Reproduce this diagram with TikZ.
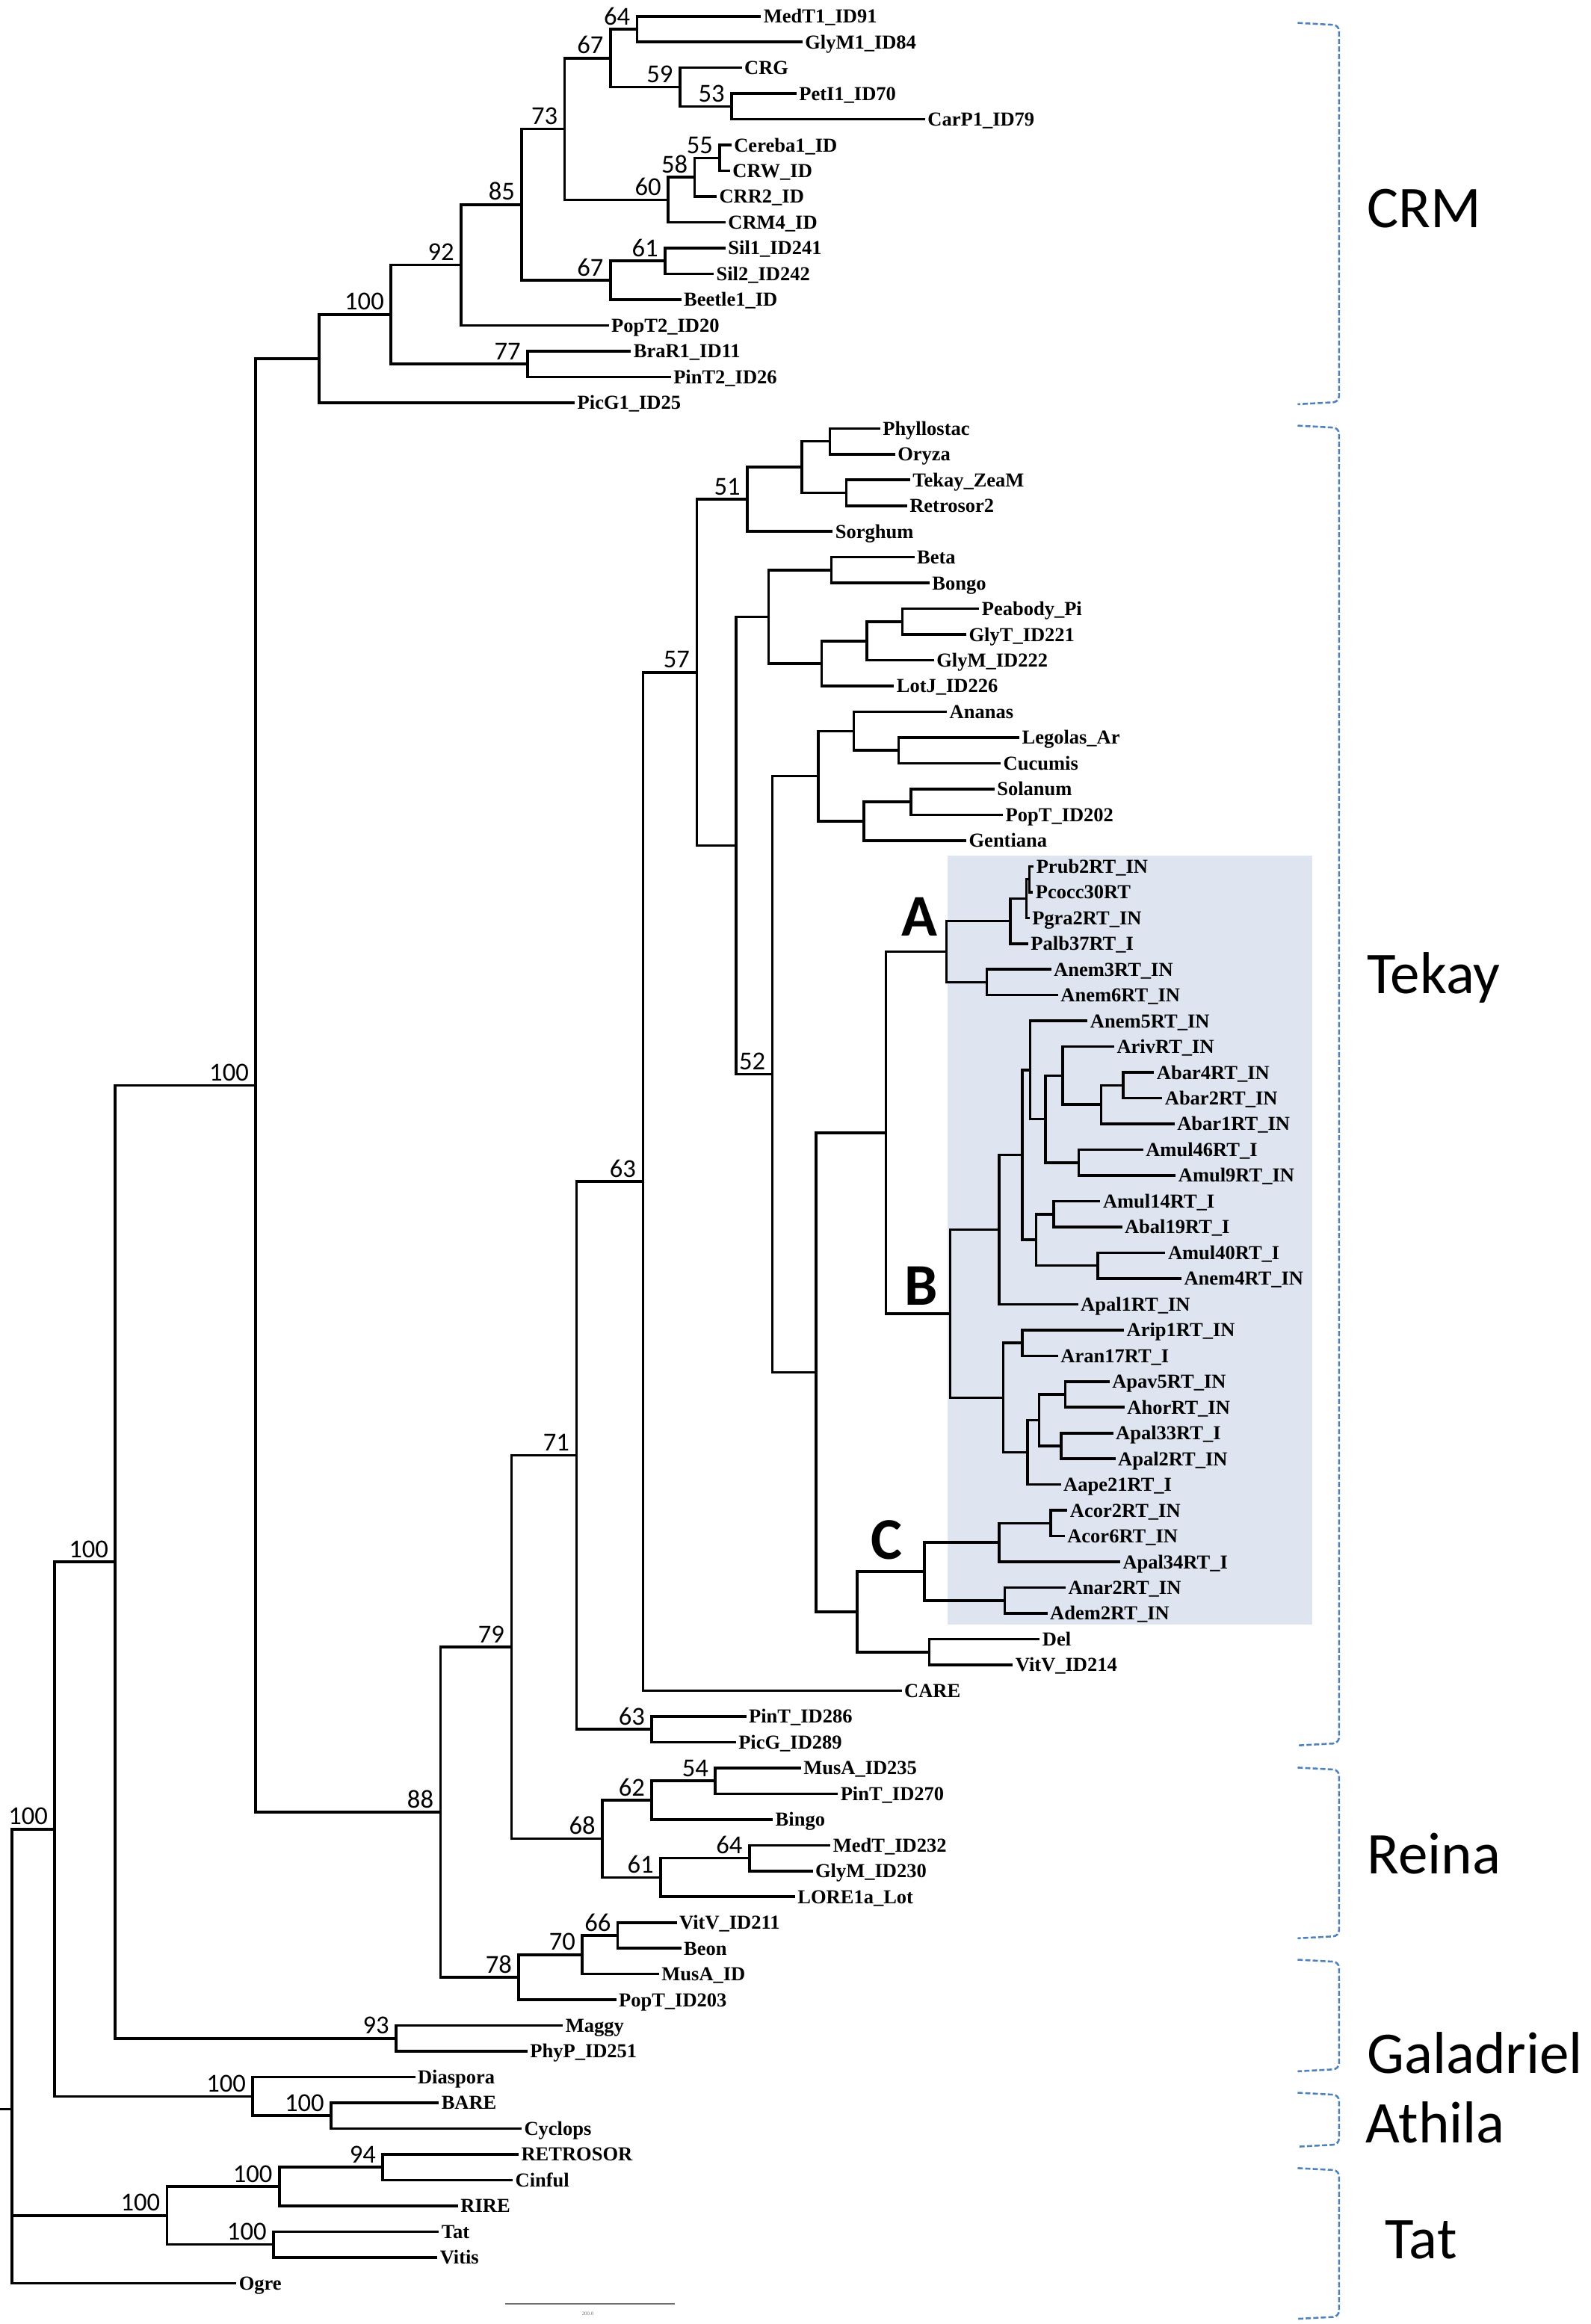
\documentclass[tikz,border=0pt]{standalone}
\usepackage{fontspec}
\setmainfont{Liberation Serif}
\newfontfamily\calibri{Carlito}
\usetikzlibrary{calc}
\definecolor{clabox}{HTML}{DEE5F0}
\definecolor{brablue}{HTML}{4F81BD}
\definecolor{scalegray}{HTML}{707070}

\tikzset{
  branch/.style={line width=1.8pt, line join=miter, line cap=rect},
  leaflab/.style={anchor=base west, yshift=-4.5pt, inner xsep=2.5pt, inner ysep=0pt, font=\bfseries\fontsize{13.4}{14}\selectfont},
  bootlab/.style={anchor=base east, xshift=-4.5pt, yshift=3pt, inner sep=0pt, font=\calibri\fontsize{17.5}{18}\selectfont},
  famlab/.style={anchor=base west, inner sep=0pt, font=\calibri\fontsize{40}{42}\selectfont},
  cladelab/.style={anchor=base east, inner sep=0pt, font=\calibri\bfseries\fontsize{40}{42}\selectfont},
  bracket/.style={brablue, line width=1.3pt, dash pattern=on 3.5pt off 1.6pt, rounded corners=4pt},
}

% leaf: name, row, x of branch end, text
\newcommand{\leaf}[4]{%
  \coordinate (#1) at (#3,{-(11+(#2-1)*17.43)});
  \node[leaflab] (#1-lab) at (#1) {#4};}
% clade: name, x, upper child, lower child, bootstrap
\newcommand{\clade}[5]{%
  \path let \p1=(#3), \p2=(#4) in coordinate (#1) at (#2,{0.5*(\y1+\y2)});
  \draw[branch] (#3) -| (#1) |- (#4);
  \ifx\relax#5\relax\else\node[bootlab] (#1-bs) at (#1) {#5};\fi}

\begin{document}
\begin{tikzpicture}[x=1pt, y=1pt]
\useasboundingbox (0,0) rectangle (1076,-1572.5);

% shaded box behind A, B, C
\fill[clabox] (641,-579) rectangle (888,-1099);

% leaves
\leaf{MedT1}{1}{514}{MedT1\_ID91}
\leaf{GlyM1}{2}{542}{GlyM1\_ID84}
\leaf{CRG}{3}{501}{CRG}
\leaf{PetI1}{4}{538}{PetI1\_ID70}
\leaf{CarP1}{5}{625}{CarP1\_ID79}
\leaf{Cereba1}{6}{494}{Cereba1\_ID}
\leaf{CRW}{7}{493}{CRW\_ID}
\leaf{CRR2}{8}{484}{CRR2\_ID}
\leaf{CRM4}{9}{490}{CRM4\_ID}
\leaf{Sil1}{10}{490}{Sil1\_ID241}
\leaf{Sil2}{11}{482}{Sil2\_ID242}
\leaf{Beetle1}{12}{460}{Beetle1\_ID}
\leaf{PopT2}{13}{411}{PopT2\_ID20}
\leaf{BraR1}{14}{426}{BraR1\_ID11}
\leaf{PinT2}{15}{453}{PinT2\_ID26}
\leaf{PicG1}{16}{388}{PicG1\_ID25}
\leaf{Phyllostac}{17}{594.6}{Phyllostac}
\leaf{Oryza}{18}{604.7}{Oryza}
\leaf{TekayZeaM}{19}{614.8}{Tekay\_ZeaM}
\leaf{Retrosor2}{20}{612.8}{Retrosor2}
\leaf{Sorghum}{21}{562.5}{Sorghum}
\leaf{Beta}{22}{617.8}{Beta}
\leaf{Bongo}{23}{628}{Bongo}
\leaf{Peabody}{24}{661.6}{Peabody\_Pi}
\leaf{GlyT}{25}{652.9}{GlyT\_ID221}
\leaf{GlyM222}{26}{631}{GlyM\_ID222}
\leaf{LotJ}{27}{604}{LotJ\_ID226}
\leaf{Ananas}{28}{639.8}{Ananas}
\leaf{Legolas}{29}{688.8}{Legolas\_Ar}
\leaf{Cucumis}{30}{676.2}{Cucumis}
\leaf{Solanum}{31}{672}{Solanum}
\leaf{PopT202}{32}{677.7}{PopT\_ID202}
\leaf{Gentiana}{33}{652.9}{Gentiana}
\leaf{Prub2}{34}{698.5}{Prub2RT\_IN}
\leaf{Pcocc30}{35}{698}{Pcocc30RT}
\leaf{Pgra2}{36}{695.7}{Pgra2RT\_IN}
\leaf{Palb37}{37}{694.8}{Palb37RT\_I}
\leaf{Anem3}{38}{710.3}{Anem3RT\_IN}
\leaf{Anem6}{39}{715}{Anem6RT\_IN}
\leaf{Anem5}{40}{735}{Anem5RT\_IN}
\leaf{Ariv}{41}{753}{ArivRT\_IN}
\leaf{Abar4}{42}{780}{Abar4RT\_IN}
\leaf{Abar2}{43}{785.5}{Abar2RT\_IN}
\leaf{Abar1}{44}{793.8}{Abar1RT\_IN}
\leaf{Amul46}{45}{772.6}{Amul46RT\_I}
\leaf{Amul9}{46}{794.6}{Amul9RT\_IN}
\leaf{Amul14}{47}{743.6}{Amul14RT\_I}
\leaf{Abal19}{48}{758.3}{Abal19RT\_I}
\leaf{Amul40}{49}{787.6}{Amul40RT\_I}
\leaf{Anem4}{50}{798.5}{Anem4RT\_IN}
\leaf{Apal1}{51}{728.5}{Apal1RT\_IN}
\leaf{Arip1}{52}{759.6}{Arip1RT\_IN}
\leaf{Aran17}{53}{715}{Aran17RT\_I}
\leaf{Apav5}{54}{749.8}{Apav5RT\_IN}
\leaf{Ahor}{55}{760}{AhorRT\_IN}
\leaf{Apal33}{56}{752.3}{Apal33RT\_I}
\leaf{Apal2}{57}{753.8}{Apal2RT\_IN}
\leaf{Aape21}{58}{716.9}{Aape21RT\_I}
\leaf{Acor2}{59}{721.3}{Acor2RT\_IN}
\leaf{Acor6}{60}{719.5}{Acor6RT\_IN}
\leaf{Apal34}{61}{757}{Apal34RT\_I}
\leaf{Anar2}{62}{720.2}{Anar2RT\_IN}
\leaf{Adem2}{63}{707.8}{Adem2RT\_IN}
\leaf{Del}{64}{702.6}{Del}
\leaf{VitV214}{65}{684.4}{VitV\_ID214}
\leaf{CARE}{66}{609.2}{CARE}
\leaf{PinT286}{67}{504}{PinT\_ID286}
\leaf{PicG289}{68}{497}{PicG\_ID289}
\leaf{MusA235}{69}{541}{MusA\_ID235}
\leaf{PinT270}{70}{566}{PinT\_ID270}
\leaf{Bingo}{71}{522}{Bingo}
\leaf{MedT232}{72}{561}{MedT\_ID232}
\leaf{GlyM230}{73}{549}{GlyM\_ID230}
\leaf{LORE1a}{74}{537}{LORE1a\_Lot}
\leaf{VitV211}{75}{457}{VitV\_ID211}
\leaf{Beon}{76}{460}{Beon}
\leaf{MusAID}{77}{445}{MusA\_ID}
\leaf{PopT203}{78}{416}{PopT\_ID203}
\leaf{Maggy}{79}{380}{Maggy}
\leaf{PhyP}{80}{356}{PhyP\_ID251}
\leaf{Diaspora}{81}{280}{Diaspora}
\leaf{BARE}{82}{296}{BARE}
\leaf{Cyclops}{83}{352}{Cyclops}
\leaf{RETROSOR}{84}{350}{RETROSOR}
\leaf{Cinful}{85}{346}{Cinful}
\leaf{RIRE}{86}{309}{RIRE}
\leaf{Tat}{87}{296}{Tat}
\leaf{Vitis}{88}{295}{Vitis}
\leaf{Ogre}{89}{159}{Ogre}

% CRM
\clade{n64}{431}{MedT1}{GlyM1}{64}
\clade{n53}{495}{PetI1}{CarP1}{53}
\clade{n59}{460}{CRG}{n53}{59}
\clade{n67a}{413}{n64}{n59}{67}
\clade{n55}{487}{Cereba1}{CRW}{55}
\clade{n58}{470}{n55}{CRR2}{58}
\clade{n60}{452}{n58}{CRM4}{60}
\clade{n73}{382}{n67a}{n60}{73}
\clade{n61}{450}{Sil1}{Sil2}{61}
\clade{n67b}{413}{n61}{Beetle1}{67}
\clade{n85}{353}{n73}{n67b}{85}
\clade{n92}{312}{n85}{PopT2}{92}
\clade{n77}{357}{BraR1}{PinT2}{77}
\clade{n100c}{264.5}{n92}{n77}{100}
\clade{crm}{216}{n100c}{PicG1}{}

% Tekay
\clade{t1}{561.6}{Phyllostac}{Oryza}{}
\clade{t2}{572.6}{TekayZeaM}{Retrosor2}{}
\clade{t3}{542.6}{t1}{t2}{}
\clade{n51}{505.6}{t3}{Sorghum}{51}
\clade{t4}{562.5}{Beta}{Bongo}{}
\clade{t5}{610.6}{Peabody}{GlyT}{}
\clade{t6}{586.4}{t5}{GlyM222}{}
\clade{t7}{556}{t6}{LotJ}{}
\clade{t8}{520}{t4}{t7}{}
\clade{t9}{608}{Legolas}{Cucumis}{}
\clade{t10}{577.7}{Ananas}{t9}{}
\clade{t11}{616.4}{Solanum}{PopT202}{}
\clade{t12}{584.4}{t11}{Gentiana}{}
\clade{t13}{553.6}{t10}{t12}{}
% clade A
\clade{p1}{696.5}{Prub2}{Pcocc30}{}
\clade{p2}{694.5}{p1}{Pgra2}{}
\clade{pa}{683.5}{p2}{Palb37}{}
\clade{an36}{667.6}{Anem3}{Anem6}{}
\clade{nA}{640.4}{pa}{an36}{}
% clade B
\clade{ab42}{760}{Abar4}{Abar2}{}
\clade{ab1}{745}{ab42}{Abar1}{}
\clade{ar}{719}{Ariv}{ab1}{}
\clade{am}{729.8}{Amul46}{Amul9}{}
\clade{b3}{707.3}{ar}{am}{}
\clade{b2}{697}{Anem5}{b3}{}
\clade{am14}{713}{Amul14}{Abal19}{}
\clade{am40}{742.7}{Amul40}{Anem4}{}
\clade{b4}{701}{am14}{am40}{}
\clade{b1}{691.6}{b2}{b4}{}
\clade{b0}{676}{b1}{Apal1}{}
\clade{ap1}{691.6}{Arip1}{Aran17}{}
\clade{apv}{720.7}{Apav5}{Ahor}{}
\clade{apl}{718}{Apal33}{Apal2}{}
\clade{c2}{703}{apv}{apl}{}
\clade{c1}{695.3}{c2}{Aape21}{}
\clade{c0}{678.8}{ap1}{c1}{}
\clade{nB}{643}{b0}{c0}{}
\clade{nAB}{599.4}{nA}{nB}{}
% clade C
\clade{acor}{710.8}{Acor2}{Acor6}{}
\clade{c3}{676}{acor}{Apal34}{}
\clade{ad}{679.8}{Anar2}{Adem2}{}
\clade{nC}{625.4}{c3}{ad}{}
\clade{dv}{628.7}{Del}{VitV214}{}
\clade{nY}{580}{nC}{dv}{}
\clade{nX}{552}{nAB}{nY}{}
\clade{n52}{522.5}{t13}{nX}{52}
\clade{t14}{498}{t8}{n52}{}
\clade{n57}{471.4}{n51}{t14}{57}
\clade{n63a}{435}{n57}{CARE}{63}
\clade{n63b}{441}{PinT286}{PicG289}{63}
\clade{n71}{390}{n63a}{n63b}{71}

% Reina
\clade{n54}{484}{MusA235}{PinT270}{54}
\clade{n62}{441}{n54}{Bingo}{62}
\clade{n64r}{507}{MedT232}{GlyM230}{64}
\clade{n61r}{447}{n64r}{LORE1a}{61}
\clade{n68}{407.5}{n62}{n61r}{68}
\clade{n79}{346}{n71}{n68}{79}
\clade{n66}{418}{VitV211}{Beon}{66}
\clade{n70}{394}{n66}{MusAID}{70}
\clade{n78}{351}{n70}{PopT203}{78}
\clade{n88}{298}{n79}{n78}{88}
\clade{n100a}{173}{crm}{n88}{100}

% Galadriel, Athila, Tat
\clade{n93}{268}{Maggy}{PhyP}{93}
\clade{n100b}{78}{n100a}{n93}{100}
\clade{n100d}{224}{BARE}{Cyclops}{100}
\clade{n100e}{171}{Diaspora}{n100d}{100}
\clade{n100f}{37}{n100b}{n100e}{100}
\clade{n94}{259}{RETROSOR}{Cinful}{94}
\clade{n100g}{189}{n94}{RIRE}{100}
\clade{n100h}{185}{Tat}{Vitis}{100}
\clade{n100i}{113}{n100g}{n100h}{100}

% root with three children
\path let \p1=(n100f), \p2=(n100i), \p3=(Ogre) in coordinate (root) at (8,{(\y1+\y2+\y3)/3});
\path (root) ++(-8,0) coordinate (rootin);
\draw[branch] (n100f) -| (root) |- (Ogre);
\draw[branch] (n100i) -| (root);
\draw[branch] (rootin) -- (root);

% clade letters
\node[cladelab] (labA) at (634.6,-633.5) {A};
\node[cladelab] (labB) at (634.6,-883) {B};
\node[cladelab] (labC) at (610.6,-1055) {C};

% family brackets
\foreach \top/\bot in {15.5/273.5, 288/1181, 1196/1311.5, 1326/1401.5, 1416/1452.5, 1467/1569}
  \draw[bracket] (878,-\top) -- (906,-\top-1.5) -- (906,-\bot+1.5) -- (878,-\bot);

\node[famlab] (famCRM) at (924.8,-154) {CRM};
\node[famlab] (famTekay) at (924.8,-672) {Tekay};
\node[famlab] (famReina) at (925,-1268) {Reina};
\node[famlab] (famGal) at (924.8,-1403) {Galadriel};
\node[famlab] (famAth) at (924,-1450) {Athila};
\node[famlab] (famTat) at (937,-1528) {Tat};

% scale bar
\coordinate (sbl) at (341.8,-1558.8);
\coordinate (sbr) at (456.7,-1558.8);
\draw[scalegray, line width=1pt] (sbl) -- (sbr);
\node[scalegray, font=\fontsize{3.5}{4}\selectfont, inner sep=0pt] (sbtext) at (397.7,-1565.5) {200.0};
\end{tikzpicture}
\end{document}
